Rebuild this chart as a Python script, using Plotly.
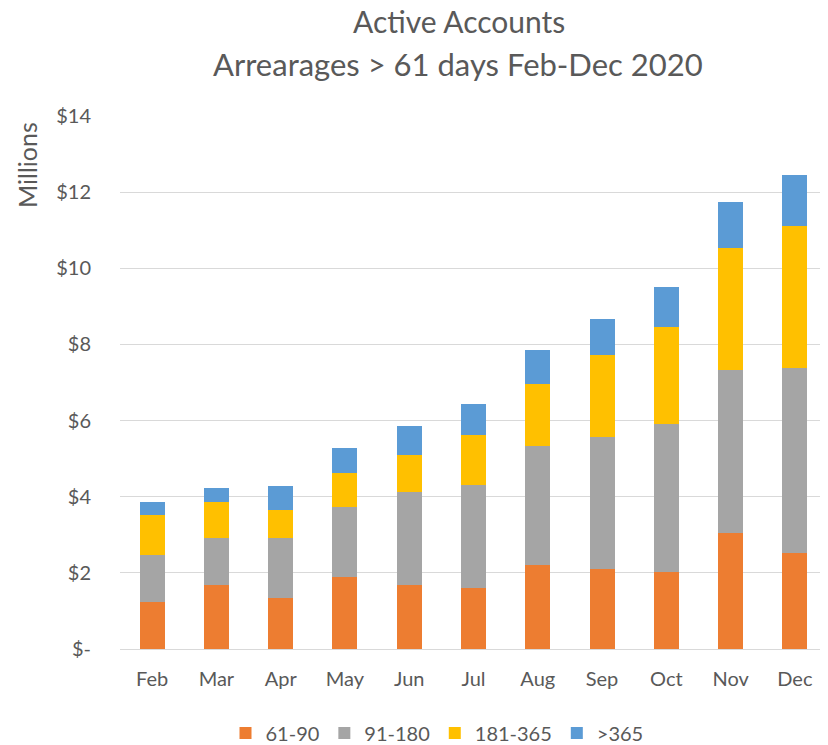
import plotly.graph_objects as go

months = ["Feb", "Mar", "Apr", "May", "Jun", "Jul", "Aug", "Sep", "Oct", "Nov", "Dec"]
s_61_90 = [1.24, 1.69, 1.35, 1.88, 1.67, 1.61, 2.20, 2.11, 2.03, 3.05, 2.53]
s_91_180 = [1.22, 1.22, 1.57, 1.86, 2.45, 2.70, 3.12, 3.47, 3.89, 4.27, 4.85]
s_181_365 = [1.07, 0.95, 0.73, 0.88, 0.98, 1.30, 1.65, 2.13, 2.55, 3.22, 3.72]
s_365p = [0.33, 0.36, 0.63, 0.67, 0.77, 0.83, 0.89, 0.96, 1.05, 1.19, 1.35]
series_names = ["61-90", "91-180", "181-365", ">365"]
colors = ["#ED7D31", "#A5A5A5", "#FFC000", "#5B9BD5"]
tick_vals = [0, 2, 4, 6, 8, 10, 12, 14]
tick_text = ["$-", "$2", "$4", "$6", "$8", "$10", "$12", "$14"]
title_lines = ["Active Accounts", "Arrearages > 61 days Feb-Dec 2020"]

FONT = "Lato, 'Open Sans', sans-serif"
TXT = "#595959"

# the page body adds an 8px offset; size the figure so it fits the window
OFF = 8
W, H = 828 - OFF, 745 - OFF
L, R, T, B = 120 - OFF, 1, 116 - OFF, 96
PW, PH = W - L - R, H - T - B


def px_x(px):
    return (px - OFF - L) / PW


def px_y(py):
    return (H - B - (py - OFF)) / PH


fig = go.Figure()
for name, vals, col in zip(series_names, [s_61_90, s_91_180, s_181_365, s_365p], colors):
    fig.add_trace(go.Bar(x=months, y=vals, name=name, marker=dict(color=col, line=dict(width=0))))

annotations = [
    dict(text=title_lines[0], x=px_x(459), y=px_y(21), xref="paper", yref="paper",
         xanchor="center", yanchor="middle", showarrow=False, font=dict(size=30, color=TXT)),
    dict(text=title_lines[1], x=px_x(458), y=px_y(64), xref="paper", yref="paper",
         xanchor="center", yanchor="middle", showarrow=False, font=dict(size=31, color=TXT)),
    dict(text="Millions", textangle=-90, x=px_x(27), y=px_y(165), xref="paper", yref="paper",
         xanchor="center", yanchor="middle", showarrow=False, font=dict(size=25, color=TXT)),
]

fig.update_layout(
    barmode="stack",
    bargap=0.61,
    width=W, height=H,
    margin=dict(l=L, r=R, t=T, b=B, autoexpand=False),
    paper_bgcolor="white", plot_bgcolor="white",
    font=dict(family=FONT, color=TXT, size=20),
    xaxis=dict(showgrid=False, showline=True, linecolor="#d9d9d9", linewidth=1,
               tickfont=dict(size=20, color=TXT), ticks="", ticklabelstandoff=12),
    yaxis=dict(range=[0, 14], tickvals=tick_vals, ticktext=tick_text,
               showgrid=True, gridcolor="#d9d9d9", gridwidth=1, zeroline=False,
               tickfont=dict(size=20, color=TXT), ticks="", ticklabelstandoff=28),
    legend=dict(orientation="h", x=px_x(437), xanchor="center",
                y=px_y(733), yanchor="middle",
                font=dict(size=20, color=TXT), traceorder="normal", itemwidth=30),
    annotations=annotations,
)
fig.write_html("out.html")
